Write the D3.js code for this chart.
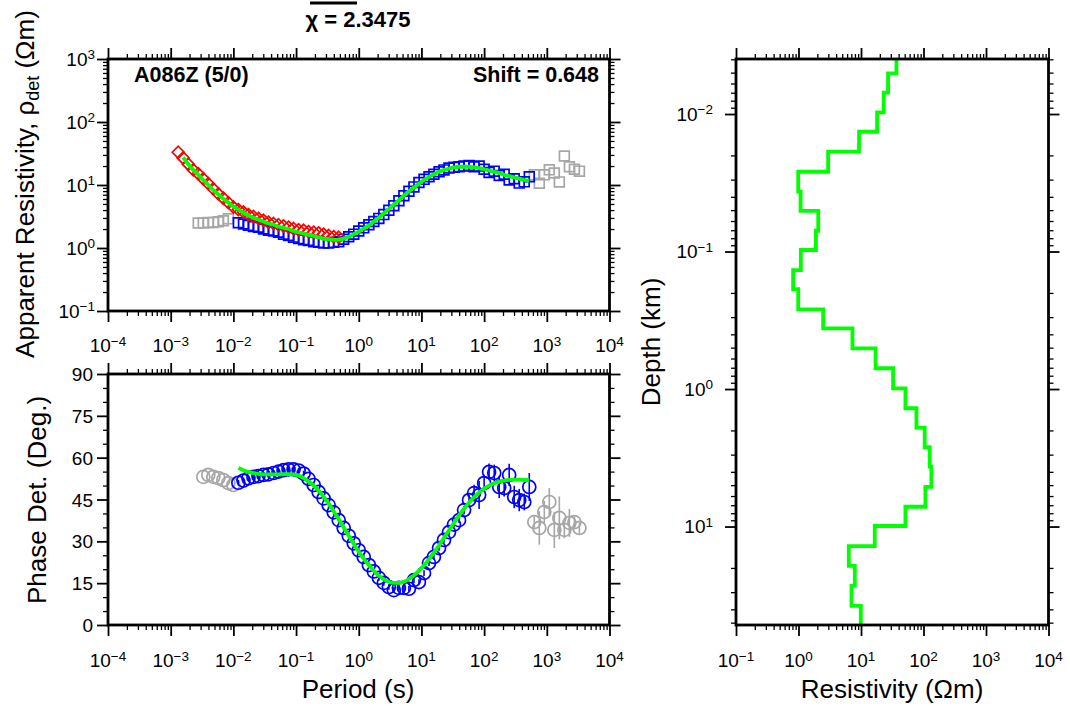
<!DOCTYPE html>
<html><head><meta charset="utf-8">
<script src="https://cdn.jsdelivr.net/npm/d3@7"></script>
<style>
body{margin:0;background:#fff}
svg{display:block}
text{font-family:"Liberation Sans",Arial,Helvetica,sans-serif;fill:#000}
</style>
</head><body>
<svg id="c" width="1070" height="706"></svg>
<script>
// ---------------- DATA ----------------
const redPeriods = [0.00132,0.00158,0.00191,0.00229,0.00275,0.00331,0.00398,0.00479,0.00575,0.00692,0.00832,0.0100,0.0120,0.0145,0.0174,0.0209,0.0251,0.0302,0.0363,0.0437,0.0525,0.0631,0.0759,0.0912,0.110,0.132,0.158,0.191,0.229,0.275,0.331,0.398,0.479];
const redRho = [33.1,26.9,21.4,17.4,15.1,12.6,10.5,8.71,7.24,6.17,5.25,4.47,4.07,3.72,3.39,3.16,2.95,2.75,2.57,2.45,2.34,2.24,2.14,2.04,1.95,1.91,1.82,1.78,1.74,1.66,1.58,1.51,1.48];

const bluePeriods = [0.0120,0.0145,0.0174,0.0209,0.0251,0.0302,0.0363,0.0437,0.0525,0.0631,0.0759,0.0912,0.110,0.132,0.158,0.191,0.229,0.275,0.331,0.398,0.479,0.575,0.692,0.832,1.00,1.20,1.45,1.74,2.09,2.51,3.02,3.63,4.37,5.25,6.31,7.59,9.12,11.0,13.2,15.8,19.1,22.9,27.5,33.1,39.8,47.9,57.5,69.2,83.2,100,120,145,174,209,251,302,363,437,525];
const blueRho = [2.51,2.40,2.29,2.19,2.14,2.00,1.91,1.86,1.78,1.66,1.58,1.48,1.41,1.35,1.32,1.26,1.23,1.20,1.20,1.23,1.26,1.38,1.51,1.66,1.86,2.09,2.34,2.63,2.95,3.39,3.98,4.68,5.62,6.76,7.94,9.33,10.96,12.30,13.49,14.79,16.22,17.38,18.62,19.05,19.50,19.95,20.42,19.50,19.95,17.78,15.85,16.60,14.13,14.79,12.02,12.59,10.72,11.22,13.49];
const bluePhase = [51.0,51.8,52.6,53.1,53.4,53.8,54.0,54.5,55.0,55.5,55.8,55.8,55.4,54.3,52.4,50.2,47.7,45.4,43.0,40.4,37.6,34.8,32.0,29.3,26.8,24.4,21.5,19.2,16.9,15.1,13.6,12.5,13.3,13.3,13.0,16.1,15.4,18.6,22.2,24.4,27.6,30.5,33.3,36.0,37.6,41.2,44.8,47.3,46.6,50.9,54.9,54.5,49.5,49.1,53.8,45.9,44.8,44.1,49.5];
const bluePhaseErr = [1,1,1,1,1,1,1,1,1,1,1,1,1,1,1,1,1,1,1,1,1,1,1,1,1,1,1,1,1,1,1,1,1,1,1,1,1,1,1,1,1,1,1,1,1,1.5,2,3,5,3,3,3,4,3,4,4,4,3,5];

const grayLowRhoPeriods = [0.00275,0.00331,0.00398,0.00479,0.00575,0.00692,0.00832];
const grayLowRho = [2.50,2.50,2.55,2.55,2.60,2.70,2.90];
const grayLowPhasePeriods = [0.00331,0.00398,0.00479,0.00575,0.00692,0.00832,0.0100];
const grayLowPhase = [53.1,53.8,53.1,52.7,52.0,50.9,50.2];

const grayHighPeriods = [631,759,912,1096,1318,1585,1905,2291,2754,3311];
const grayHighRho = [14.5,10.7,14.5,17.4,15.5,11.2,28.8,19.5,17.8,16.6];
const grayHighPhase = [36.9,34.8,40.5,44.1,34.1,38.4,34.1,36.6,36.9,34.8];
const grayHighPhaseErr = [2,6,4,5,6.5,7.7,3,5,2,2];

const modelRhoPeriods = [0.00158,0.00191,0.00229,0.00275,0.00331,0.00398,0.00479,0.00575,0.00692,0.00832,0.0100,0.0120,0.0145,0.0174,0.0209,0.0251,0.0302,0.0363,0.0437,0.0525,0.0631,0.0759,0.0912,0.110,0.132,0.158,0.191,0.229,0.275,0.331,0.398,0.479,0.575,0.692,0.832,1.00,1.20,1.45,1.74,2.09,2.51,3.02,3.63,4.37,5.25,6.31,7.59,9.12,11.0,13.2,15.8,19.1,22.9,27.5,33.1,39.8,47.9,57.5,69.2,83.2,100,120,145,174,209,251,302,363,437,525];
const modelRho = [27.5,21.4,17.4,14.5,12.0,10.0,8.32,7.08,6.03,5.25,4.57,4.07,3.63,3.31,3.02,2.82,2.63,2.45,2.34,2.19,2.09,2.00,1.86,1.78,1.70,1.62,1.55,1.48,1.41,1.38,1.35,1.35,1.41,1.51,1.66,1.82,2.04,2.29,2.63,3.02,3.55,4.17,4.90,5.75,6.76,7.94,9.12,10.5,12.0,13.5,14.8,16.2,17.4,18.2,19.1,19.5,19.5,19.5,19.1,18.6,17.8,17.0,16.2,15.5,14.5,13.8,13.2,12.6,12.0,11.7];
const modelPhase = [56.3,55.5,54.9,54.5,54.2,54.0,54.0,54.0,54.0,54.1,54.1,54.0,53.6,52.7,51.5,50.0,48.2,46.0,43.5,40.8,37.9,35.0,32.0,29.1,26.3,23.8,21.5,19.4,17.7,16.4,15.5,15.1,15.1,15.5,16.5,17.8,19.4,21.4,23.6,26.0,28.6,31.3,34.0,36.7,39.3,41.7,43.9,45.8,47.5,48.9,50.0,50.8,51.4,51.8,52.0,52.1,52.1,52.0,51.9];

const layerTops = [0,0.00506,0.0070,0.00973,0.01346,0.0188,0.0263,0.0367,0.0507,0.0706,0.0975,0.1365,0.188,0.263,0.362,0.506,0.706,0.989,1.38,1.91,2.65,3.67,5.14,7.18,9.91,13.9,19.3,27.0,37.7];
const layerRho = [36.9,27.1,23.1,18.1,9.3,2.98,0.99,1.08,2.07,1.90,1.09,0.82,0.99,2.48,7.3,17.1,32.6,51.4,77.1,104.5,125.7,133.7,107.2,51.4,16.6,6.38,7.96,7.05,9.93];

const periodExponents = [-4,-3,-2,-1,0,1,2,3,4];
const rhoExponents = [-1,0,1,2,3];
const phaseTicks = [0,15,30,45,60,75,90];
const modelResExponents = [-1,0,1,2,3,4];
const depthExponents = [-2,-1,0,1];

const titleText = "\u03C7 = 2.3475";
const siteText = "A086Z (5/0)";
const shiftText = "Shift = 0.648";

// ---------------- SCALES ----------------
const svg = d3.select("#c");
const xP = d3.scaleLog().domain([1e-4,1e4]).range([108,609.5]);
const yR = d3.scaleLog().domain([1e-1,1e3]).range([311,59]);
const yPh = d3.scaleLinear().domain([0,90]).range([625,374]);
const xM = d3.scaleLog().domain([1e-1,1e4]).range([736,1048.5]);
const yD = d3.scaleLog().domain([0.00398,52]).range([59,625]);

const GREEN = "#00ff00", BLUE = "#0000ff", RED = "#ff0000", GRAY = "#a6a6a6";
const TICKFONT = 19, SUPFONT = 13.5;

function logTickSets(scale){
  const [a,b] = scale.domain();
  const lo = Math.floor(Math.log10(a)-1e-9), hi = Math.ceil(Math.log10(b)+1e-9);
  const major=[], minor=[];
  for(let e=lo;e<=hi;e++){
    const p = Math.pow(10,e);
    if(p>=a*0.999 && p<=b*1.001) major.push(p);
    for(let k=2;k<=9;k++){ const v=k*p; if(v>=a && v<=b) minor.push(v); }
  }
  return {major, minor};
}
function linTickSets(){
  const major = phaseTicks.slice(), minor=[];
  for(let v=0; v<=90; v+=5) if(v%15!==0) minor.push(v);
  return {major, minor};
}
function drawTicks(axisFn, scale, sets, transform){
  const g1 = svg.append("g").attr("transform",transform)
    .call(axisFn(scale).tickValues(sets.minor).tickSize(5).tickFormat(""));
  const g2 = svg.append("g").attr("transform",transform)
    .call(axisFn(scale).tickValues(sets.major).tickSize(11).tickFormat(""));
  [g1,g2].forEach(g=>{ g.select(".domain").remove(); });
  g1.selectAll("line").attr("stroke","#000").attr("stroke-width",1.3);
  g2.selectAll("line").attr("stroke","#000").attr("stroke-width",1.8);
}
function frame(x0,y0,x1,y1){
  svg.append("rect").attr("x",x0).attr("y",y0).attr("width",x1-x0).attr("height",y1-y0)
    .attr("fill","none").attr("stroke","#000").attr("stroke-width",2.8);
}
function pow10(x,y,e,anchor){
  const t = svg.append("text").attr("x",x).attr("y",y).attr("text-anchor",anchor).attr("font-size",TICKFONT);
  t.append("tspan").text("10");
  t.append("tspan").attr("dy",-6.5).attr("font-size",SUPFONT).text(e<0 ? "\u2212"+(-e) : String(e));
}

// ---------------- TOP PANEL: apparent resistivity ----------------
const pX = logTickSets(xP), rY = logTickSets(yR);
drawTicks(d3.axisBottom, xP, pX, "translate(0,311)");
drawTicks(d3.axisTop, xP, pX, "translate(0,59)");
drawTicks(d3.axisLeft, yR, rY, "translate(108,0)");
drawTicks(d3.axisRight, yR, rY, "translate(609.5,0)");
periodExponents.forEach(e=>pow10(xP(Math.pow(10,e)),352,e,"middle"));
rhoExponents.forEach(e=>pow10(95,yR(Math.pow(10,e))+6.5,e,"end"));

const sq = d3.symbol().type(d3.symbolSquare).size(96);
function squares(periods, vals, color){
  svg.append("g").selectAll("path").data(periods).join("path")
    .attr("d",sq).attr("transform",(d,i)=>`translate(${xP(d)},${yR(vals[i])})`)
    .attr("fill","none").attr("stroke",color).attr("stroke-width",1.7);
}
squares(grayLowRhoPeriods, grayLowRho, GRAY);
squares(grayHighPeriods, grayHighRho, GRAY);
squares(bluePeriods, blueRho, BLUE);
svg.append("g").selectAll("path").data(redPeriods).join("path")
  .attr("d","M0,-6L6,0L0,6L-6,0Z")
  .attr("transform",(d,i)=>`translate(${xP(d)},${yR(redRho[i])})`)
  .attr("fill","none").attr("stroke",RED).attr("stroke-width",1.7);
svg.append("path").datum(modelRhoPeriods)
  .attr("d",d3.line().x(d=>xP(d)).y((d,i)=>yR(modelRho[i])).curve(d3.curveMonotoneX))
  .attr("fill","none").attr("stroke",GREEN).attr("stroke-width",3.8);
frame(108,59,609.5,311);

svg.append("text").attr("x",134).attr("y",82).attr("font-size",21.5).attr("font-weight","bold").text(siteText);
svg.append("text").attr("x",599).attr("y",82).attr("font-size",21.5).attr("font-weight","bold").attr("text-anchor","end").text(shiftText);

// ---------------- BOTTOM PANEL: phase ----------------
const phY = linTickSets();
drawTicks(d3.axisBottom, xP, pX, "translate(0,625)");
drawTicks(d3.axisTop, xP, pX, "translate(0,374)");
drawTicks(d3.axisLeft, yPh, phY, "translate(108,0)");
drawTicks(d3.axisRight, yPh, phY, "translate(609.5,0)");
periodExponents.forEach(e=>pow10(xP(Math.pow(10,e)),667,e,"middle"));
phaseTicks.forEach(v=>svg.append("text").attr("x",93).attr("y",yPh(v)+7).attr("text-anchor","end").attr("font-size",TICKFONT).text(v));

function circles(periods, vals, errs, color){
  const g = svg.append("g");
  if(errs){
    g.selectAll("line").data(periods).join("line")
      .attr("x1",d=>xP(d)).attr("x2",d=>xP(d))
      .attr("y1",(d,i)=>yPh(vals[i]-errs[i])).attr("y2",(d,i)=>yPh(vals[i]+errs[i]))
      .attr("stroke",color).attr("stroke-width",1.6);
  }
  g.selectAll("circle").data(periods).join("circle")
    .attr("cx",d=>xP(d)).attr("cy",(d,i)=>yPh(vals[i])).attr("r",6.5)
    .attr("fill","none").attr("stroke",color).attr("stroke-width",1.7);
}
circles(grayLowPhasePeriods, grayLowPhase, null, GRAY);
circles(grayHighPeriods, grayHighPhase, grayHighPhaseErr, GRAY);
circles(bluePeriods, bluePhase, bluePhaseErr, BLUE);
svg.append("path").datum(bluePeriods)
  .attr("d",d3.line().x(d=>xP(d)).y((d,i)=>yPh(modelPhase[i])).curve(d3.curveMonotoneX))
  .attr("fill","none").attr("stroke",GREEN).attr("stroke-width",3.8);
frame(108,374,609.5,625);

// ---------------- RIGHT PANEL: model ----------------
const mX = logTickSets(xM), dY = logTickSets(yD);
drawTicks(d3.axisBottom, xM, mX, "translate(0,625)");
drawTicks(d3.axisTop, xM, mX, "translate(0,59)");
drawTicks(d3.axisLeft, yD, dY, "translate(736,0)");
drawTicks(d3.axisRight, yD, dY, "translate(1048.5,0)");
modelResExponents.forEach(e=>pow10(xM(Math.pow(10,e)),667,e,"middle"));
depthExponents.forEach(e=>pow10(713,yD(Math.pow(10,e))+6.5,e,"end"));

const [dMin,dMax] = yD.domain();
const stepPts = [];
layerRho.forEach((r,i)=>{
  const top = Math.max(layerTops[i], dMin);
  const bot = i+1<layerTops.length ? layerTops[i+1] : dMax;
  stepPts.push([r,top]); stepPts.push([r,bot]);
});
svg.append("path").datum(stepPts)
  .attr("d",d3.line().x(d=>xM(d[0])).y(d=>yD(d[1])))
  .attr("fill","none").attr("stroke",GREEN).attr("stroke-width",3.8).attr("stroke-linejoin","miter");
frame(736,59,1048.5,625);

// ---------------- TITLES ----------------
svg.append("line").attr("x1",310).attr("x2",357).attr("y1",3).attr("y2",3).attr("stroke","#000").attr("stroke-width",3);
svg.append("text").attr("x",358).attr("y",27).attr("text-anchor","middle").attr("font-size",22).attr("font-weight","bold").text(titleText);

svg.append("text").attr("x",358).attr("y",698).attr("text-anchor","middle").attr("font-size",26).text("Period (s)");
svg.append("text").attr("x",892).attr("y",698).attr("text-anchor","middle").attr("font-size",26).text("Resistivity (\u03A9m)");

svg.append("text").attr("transform","translate(660,342) rotate(-90)").attr("text-anchor","middle").attr("font-size",26).text("Depth (km)");
const ylab = svg.append("text").attr("transform","translate(34,184) rotate(-90)").attr("text-anchor","middle").attr("font-size",26);
ylab.append("tspan").text("Apparent Resistivity, \u03C1");
ylab.append("tspan").attr("dy",5).attr("font-size",18).text("det");
ylab.append("tspan").attr("dy",-5).text(" (\u03A9m)");
svg.append("text").attr("transform","translate(46,500) rotate(-90)").attr("text-anchor","middle").attr("font-size",26).text("Phase Det. (Deg.)");
</script>
</body></html>
